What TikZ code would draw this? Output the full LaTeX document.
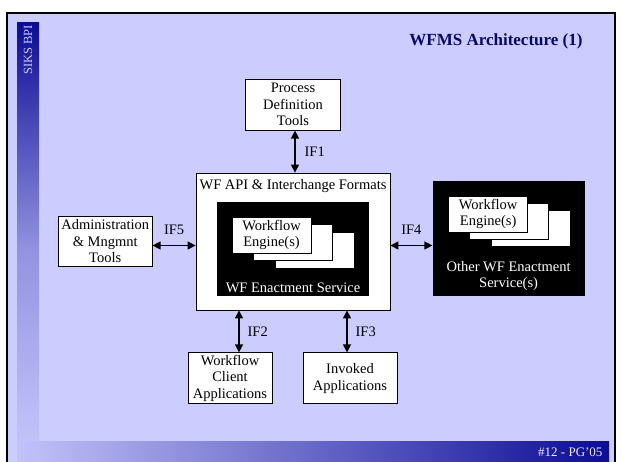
\documentclass[tikz,border=0pt]{standalone}
\usepackage{fontspec}
\setmainfont{Liberation Serif}
\usetikzlibrary{calc,positioning,arrows.meta}
\definecolor{slidebg}{RGB}{204,204,255}
\definecolor{sidedark}{RGB}{12,12,150}
\definecolor{titleblue}{RGB}{8,8,110}
\tikzstyle{box} = [rectangle, draw=black, fill=white, line width=0.8pt, align=center, inner sep=0pt, font=\fontsize{14.5}{16.5}\selectfont]
\tikzstyle{engine} = [box, minimum width=79pt, minimum height=36pt, anchor=north west, line width=0.5pt]
\tikzstyle{service} = [rectangle, fill=black, inner sep=0pt]
\tikzstyle{arrow} = [line width=1.3pt,<->,>={Triangle[length=8pt,width=8pt]}]
\tikzstyle{iflabel} = [font=\fontsize{14.5}{16.5}\selectfont, inner sep=0pt, align=center]

\begin{document}
\begin{tikzpicture}[x=1pt, y=-1pt, node distance=42pt]
\useasboundingbox (0,0) rectangle (621,462);
\clip (0,0) rectangle (621,462);
\fill[white] (0,0) rectangle (621,462);
\fill[slidebg] (7,13) rectangle (615,470);
% slide decoration
\shade[top color=sidedark, bottom color=slidebg!70!sidedark] (17,23) rectangle (39,250);
\shade[top color=slidebg!70!sidedark, bottom color=slidebg!95!sidedark] (17,250) rectangle (39,441);
\shade[left color=slidebg!95!sidedark, right color=sidedark] (17,441) rectangle (609,470);
\draw[line width=2.5pt] (7,13) rectangle (615,480);
\node (siks) [rotate=90, font=\fontsize{12.5}{14}\selectfont, text=slidebg] at (28,50) {SIKS BPI};
\node (title) [anchor=east, font=\fontsize{17}{20}\selectfont\bfseries, text=titleblue] at (586,41) {WFMS Architecture (1)};
\node (foot) [anchor=east, font=\fontsize{13}{15}\selectfont, text=slidebg!40!white] at (606,452) {\#12 - PG'05};

% central service
\node (api) [box, minimum width=194pt, minimum height=137pt] at (293,241.5) {};
\node (apititle) [iflabel, below=7pt of api.north] {WF API \& Interchange Formats};
\node (enact) [service, minimum width=152pt, minimum height=94pt] at (293,249) {};
\node (eng3) [engine] at ($(enact.north west)+(58,30)$) {};
\node (eng2) [engine] at ($(enact.north west)+(36,22)$) {};
\node (eng1) [engine] at ($(enact.north west)+(15,15)$) {Workflow\\Engine(s)};
\node (enactlabel) [iflabel, text=white, above=3pt of enact.south] {WF Enactment Service};

% surrounding parts
\node (pdt) [box, above=of api, minimum width=95pt, minimum height=51pt] {Process\\Definition\\Tools};
\node (admin) [box, left=43pt of api, minimum width=94pt, minimum height=50pt] {Administration\\\& Mngmnt\\Tools};
\node (other) [service, right=of api, yshift=3pt, minimum width=152pt, minimum height=115pt] {};
\node (oeng3) [engine] at ($(other.north west)+(59,29)$) {};
\node (oeng2) [engine] at ($(other.north west)+(37,22)$) {};
\node (oeng1) [engine] at ($(other.north west)+(16,15)$) {Workflow\\Engine(s)};
\node (otherlabel) [iflabel, text=white, above=5pt of other.south] {Other WF Enactment\\Service(s)};
\node (client) [box, below=of api, xshift=-63pt, minimum width=84pt, minimum height=51pt] {Workflow\\Client\\Applications};
\node (invoked) [box, below=of api, xshift=57pt, minimum width=94pt, minimum height=51pt] {Invoked\\Applications};

%arrows
\draw [arrow] ([xshift=2pt]pdt.south) -- ([xshift=2pt]pdt.south |- api.north) node[iflabel, midway, right=9pt] {IF1};
\draw [arrow] ([yshift=-4pt]admin.east) -- ([yshift=-4pt]admin.east -| api.west) node[iflabel, midway, above=10pt] {IF5};
\draw [arrow] ([yshift=-4pt]api.east) -- ([yshift=-4pt]api.east -| other.west) node[iflabel, midway, above=10pt] {IF4};
\draw [arrow] ([xshift=9pt]client.north) -- ([xshift=9pt]client.north |- api.south) node[iflabel, midway, right=8pt] {IF2};
\draw [arrow] ([xshift=-3pt]invoked.north) -- ([xshift=-3pt]invoked.north |- api.south) node[iflabel, midway, right=8pt] {IF3};

\end{tikzpicture}
\end{document}
